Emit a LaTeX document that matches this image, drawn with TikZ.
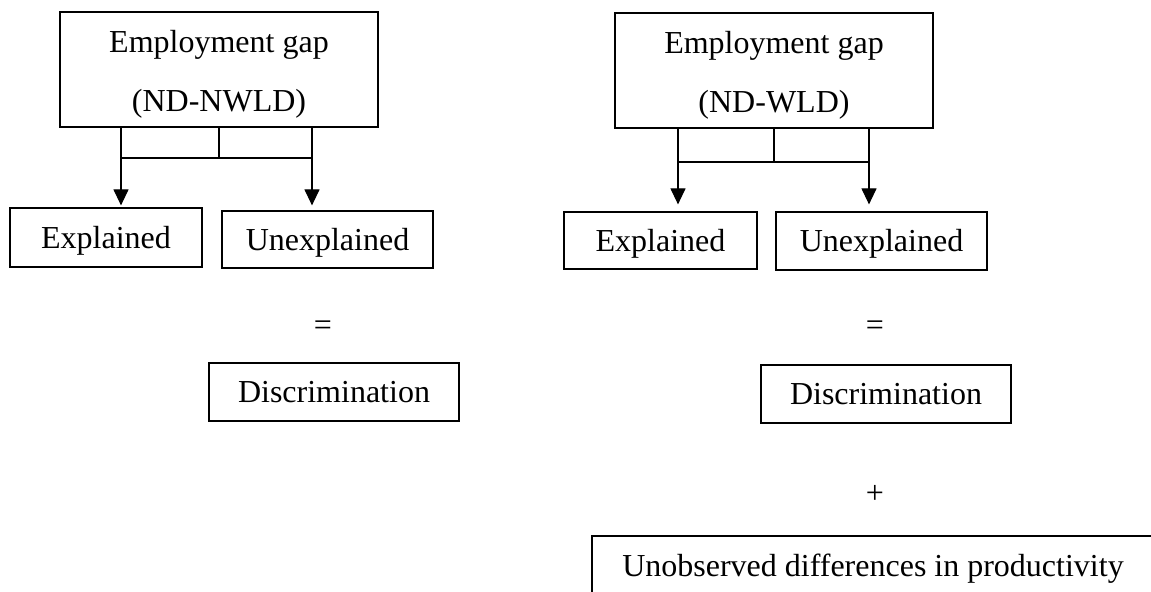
\documentclass[tikz,border=0pt]{standalone}
\usepackage{fontspec}
\setmainfont{Liberation Serif}
\usetikzlibrary{arrows.meta}
\begin{document}
\begin{tikzpicture}[
        x=0.5pt, y=-0.5pt,
        line width=0.6pt,
        font=\fontsize{16pt}{19pt}\selectfont,
        box/.style={draw, inner sep=0pt, text height=14pt, text depth=3pt},
        gapbox/.style={draw, inner sep=0pt, align=center, minimum width=159pt, minimum height=57.5pt, font=\fontsize{16pt}{29.5pt}\selectfont},
        arr/.style={-{Triangle[width=7.5pt,length=8pt]}}
    ]
    \useasboundingbox (0,0) rectangle (1151,592);
    \clip (0,0) rectangle (1151,592);

    % Left decomposition (ND-NWLD)
    \node[gapbox] (ltop) at (219,69.5) {\rule{0pt}{16pt}Employment gap\\(ND-NWLD)};
    \node[box, minimum width=96pt, minimum height=29.5pt] (lexp) at (106,237.5) {Explained}; \node[box, minimum width=105.5pt, minimum height=28.5pt] (lunexp) at (327.5,239.5) {Unexplained};
    \node (leq) at (323,328) {=}; \node[box, minimum width=125pt, minimum height=29pt] (ldisc) at (334,392) {Discrimination};

    \coordinate (lL) at (121,158); \coordinate (lR) at (312,158);
    \draw (ltop.south) -- (ltop.south |- lL); \draw (lL) -- (lR);
    \draw[arr, shorten >=1pt] (ltop.south -| lL) -- (lL |- lexp.north);
    \draw[arr, shorten >=2.5pt] (ltop.south -| lR) -- (lR |- lunexp.north);

    % Right decomposition (ND-WLD)
    \node[gapbox] (rtop) at (774,70.5) {\rule{0pt}{16pt}Employment gap\\(ND-WLD)};
    \node[box, minimum width=96.5pt, minimum height=28.5pt] (rexp) at (660.5,240.5) {Explained}; \node[box, minimum width=105.5pt, minimum height=29pt] (runexp) at (881.5,241) {Unexplained};
    \node (req) at (875,328) {=}; \node[box, minimum width=125pt, minimum height=29pt] (rdisc) at (886,394) {Discrimination};
    \node (rplus) at (875,494) {+}; \node[box, minimum width=281pt, minimum height=30pt] (runobs) at (873,566) {Unobserved differences in productivity};

    \coordinate (rL) at (678,162); \coordinate (rR) at (869,162);
    \draw (rtop.south) -- (rtop.south |- rL); \draw (rL) -- (rR);
    \draw[arr, shorten >=3.5pt] (rtop.south -| rL) -- (rL |- rexp.north);
    \draw[arr, shorten >=3.5pt] (rtop.south -| rR) -- (rR |- runexp.north);

\end{tikzpicture}
\end{document}
